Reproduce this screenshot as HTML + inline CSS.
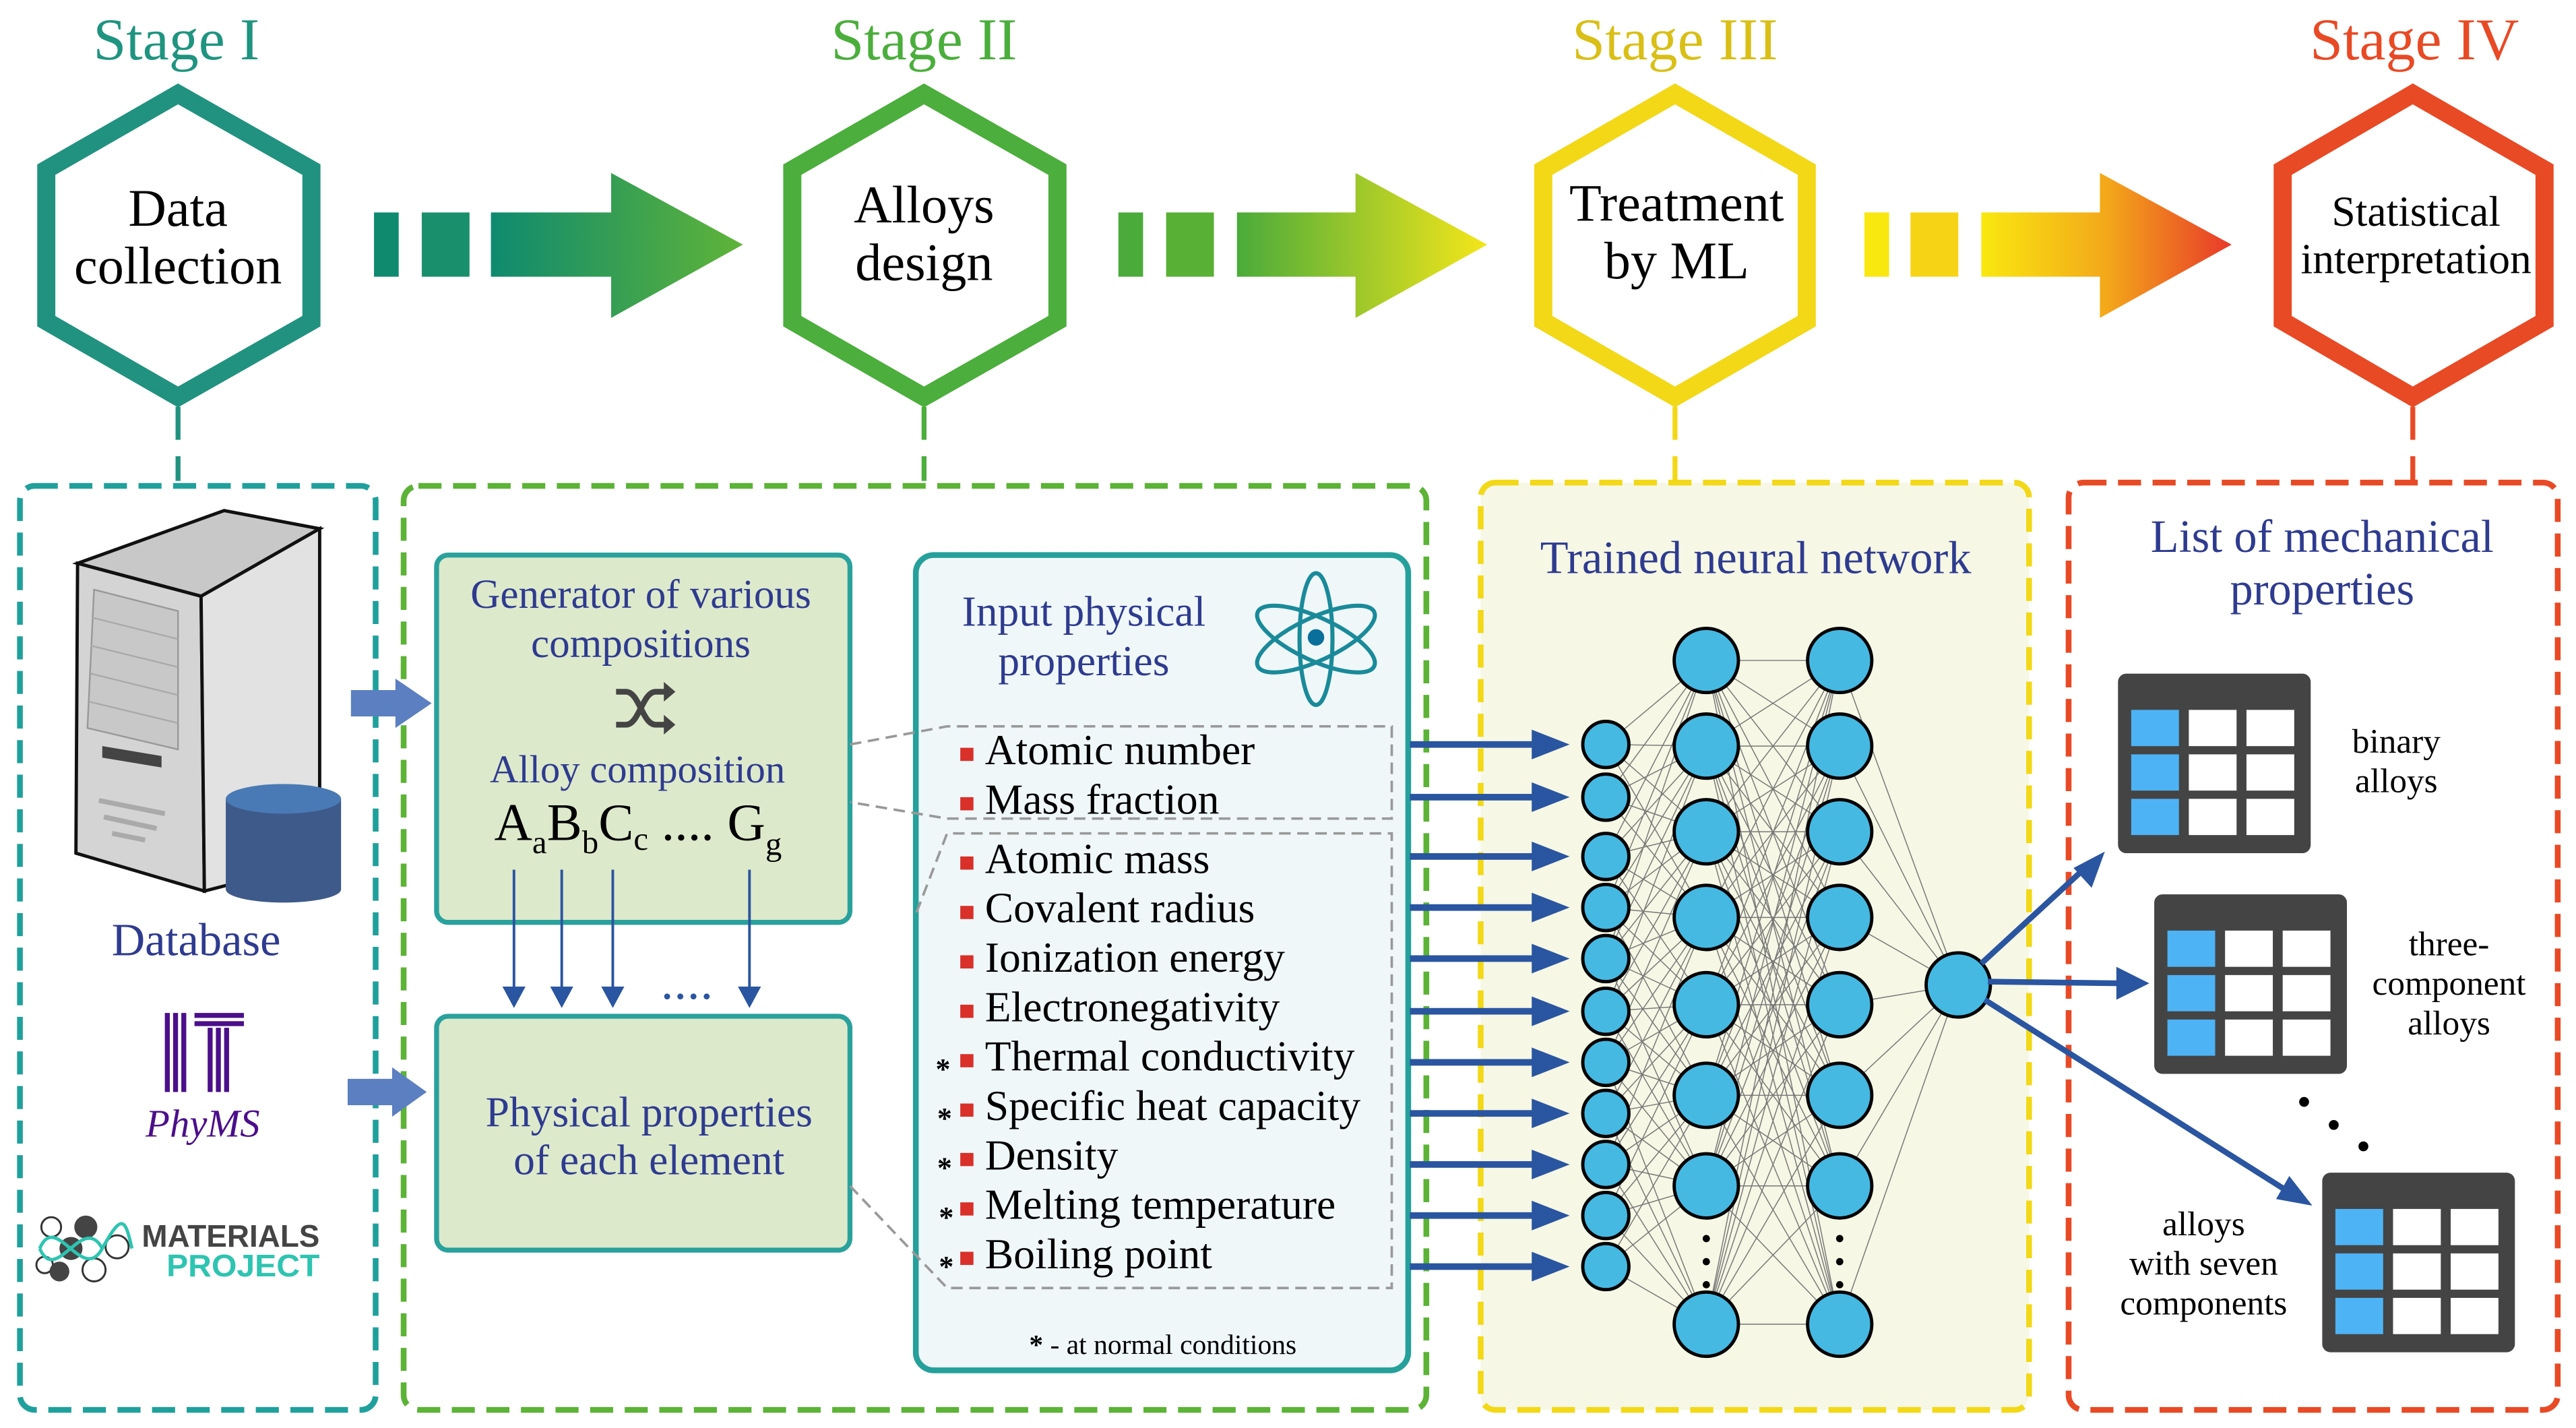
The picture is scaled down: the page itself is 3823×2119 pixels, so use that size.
<!DOCTYPE html>
<html><head><meta charset="utf-8"><style>
html,body{margin:0;padding:0;background:#fff}
svg{display:block}
text{font-family:"Liberation Serif",serif}
</style></head><body>
<svg id="s" xmlns="http://www.w3.org/2000/svg" width="3823" height="2119" viewBox="0 0 1564 867">
<defs>
<linearGradient id="g1" x1="0" x2="1"><stop offset="0" stop-color="#0f8a6f"/><stop offset="1" stop-color="#5fb438"/></linearGradient>
<linearGradient id="g2" x1="0" x2="1"><stop offset="0" stop-color="#4aab3a"/><stop offset="1" stop-color="#f4e61a"/></linearGradient>
<linearGradient id="g3" x1="0" x2="1"><stop offset="0" stop-color="#f9e80f"/><stop offset="0.5" stop-color="#f3a81a"/><stop offset="1" stop-color="#e8392a"/></linearGradient>
</defs>
<rect width="1564" height="867" fill="#fff"/>

<!-- Stage titles -->
<text x="107" y="36" font-size="36" fill="#1f9480" text-anchor="middle">Stage I</text>
<text x="561" y="36" font-size="36" fill="#4bae3c" text-anchor="middle">Stage II</text>
<text x="1017" y="36" font-size="36" fill="#d9bf16" text-anchor="middle">Stage III</text>
<text x="1466" y="36" font-size="36" fill="#e84a25" text-anchor="middle">Stage IV</text>

<!-- Hexagons -->
<g fill="#fff" stroke-width="11" stroke-linejoin="miter">
<polygon points="108,57 189,103 189,195 108,241 28,195 28,103" stroke="#21927f"/>
<polygon points="561,57 642,103 642,195 561,241 481,195 481,103" stroke="#4cae3c"/>
<polygon points="1017,57 1097,103 1097,195 1017,241 937,195 937,103" stroke="#f2d817"/>
<polygon points="1465,57 1545,103 1545,195 1465,241 1386,195 1386,103" stroke="#e84a25"/>
</g>
<g font-size="32" fill="#000" text-anchor="middle">
<text x="108" y="137">Data</text><text x="108" y="172">collection</text>
<text x="561" y="135">Alloys</text><text x="561" y="170">design</text>
<text x="1018" y="134">Treatment</text><text x="1018" y="169">by ML</text>
</g>
<text x="1467" y="137" font-size="26" text-anchor="middle">Statistical</text>
<text x="1467" y="166" font-size="26" text-anchor="middle">interpretation</text>

<!-- Stage arrows -->
<rect x="227" y="129" width="15" height="39" fill="#0f8a6f"/>
<rect x="256" y="129" width="29" height="39" fill="#1a8f6b"/>
<polygon points="298,129 371,129 371,105 451,148.5 371,193 371,168 298,168" fill="url(#g1)"/>
<rect x="679" y="129" width="15" height="39" fill="#4aab3a"/>
<rect x="708" y="129" width="29" height="39" fill="#58b034"/>
<polygon points="751,129 823,129 823,105 903,148.5 823,193 823,168 751,168" fill="url(#g2)"/>
<rect x="1132" y="129" width="15" height="39" fill="#f9e80f"/>
<rect x="1160" y="129" width="29" height="39" fill="#f6d415"/>
<polygon points="1203,129 1275,129 1275,105 1355,148.5 1275,193 1275,168 1203,168" fill="url(#g3)"/>

<!-- vertical dashed connectors -->
<g stroke-width="3" stroke-dasharray="20 10">
<line x1="108" y1="247" x2="108" y2="292" stroke="#21927f"/>
<line x1="561" y1="247" x2="561" y2="292" stroke="#4cae3c"/>
<line x1="1017" y1="247" x2="1017" y2="292" stroke="#f2d817"/>
<line x1="1465" y1="247" x2="1465" y2="292" stroke="#e84a25"/>
</g>

<!-- panels -->
<g stroke-width="3.5" stroke-dasharray="14 7" fill="none">
<rect x="12" y="295" width="216" height="561" rx="9" stroke="#20a09c"/>
<rect x="245" y="295" width="621" height="561" rx="9" stroke="#5cb336"/>
<rect x="899" y="293" width="333" height="563" rx="9" stroke="#f2d817" fill="#f6f7e4"/>
<rect x="1256" y="293" width="297" height="563" rx="9" stroke="#e84a25"/>
</g>

<!-- server -->
<polygon points="47,342 136,310 194,321 122,362" fill="#c8c8c8" stroke="#111" stroke-width="2"/>
<polygon points="47,342 122,362 124,541 46,518" fill="#d4d4d4" stroke="#111" stroke-width="2"/>
<polygon points="122,362 194,321 194,523 124,541" fill="#e2e2e2" stroke="#111" stroke-width="2"/>
<polygon points="57,358 108,371 108,455 53,442" fill="#c8c8c8" stroke="#999" stroke-width="1"/>
<g stroke="#aaa" stroke-width="1"><line x1="56" y1="375" x2="108" y2="388"/><line x1="55" y1="392" x2="108" y2="405"/><line x1="55" y1="409" x2="108" y2="422"/><line x1="54" y1="426" x2="108" y2="439"/></g>
<path d="M62,453 L98,459 L98,466 L62,460 Z" fill="#444"/>
<path d="M60,486 L100,494 M63,496 L95,503 M68,506 L88,510" stroke="#aaa" stroke-width="3"/>
<rect x="137" y="485" width="70" height="55" fill="#3d5a8a"/>
<ellipse cx="172" cy="540" rx="35" ry="8" fill="#3d5a8a"/>
<ellipse cx="172" cy="485" rx="35" ry="9" fill="#4a7ab5"/>
<text x="119" y="580" font-size="28" fill="#2e3b8f" text-anchor="middle">Database</text>

<!-- PhyMS -->
<g fill="#4b0f8a">
<rect x="100" y="615" width="3" height="48"/><rect x="105" y="615" width="3" height="48"/><rect x="110" y="615" width="3" height="48"/>
<rect x="118" y="615" width="30" height="3"/><rect x="118" y="620" width="30" height="3"/>
<rect x="126" y="624" width="3" height="39"/><rect x="131" y="624" width="3" height="39"/><rect x="136" y="624" width="3" height="39"/>
</g>
<text x="123" y="690" font-size="24" font-style="italic" fill="#4b0f8a" text-anchor="middle">PhyMS</text>

<!-- Materials Project -->
<g stroke="#333" stroke-width="1.2" fill="none">
<circle cx="31" cy="745" r="6"/><circle cx="71" cy="757" r="7"/><circle cx="57" cy="771" r="7"/><circle cx="27" cy="768" r="5"/>
</g>
<g fill="#444"><circle cx="52" cy="745" r="7"/><circle cx="43" cy="758" r="7"/><circle cx="36" cy="772" r="6"/></g>
<path d="M24,758 C34,735 50,780 62,758 S76,740 80,758" stroke="#2ec4b1" stroke-width="2" fill="none"/>
<path d="M24,758 C34,781 50,736 62,758" stroke="#2ec4b1" stroke-width="2" fill="none"/>
<text x="86" y="757" style="font-family:'Liberation Sans',sans-serif" font-weight="bold" font-size="19" fill="#444" textLength="108" lengthAdjust="spacingAndGlyphs">MATERIALS</text>
<text x="101" y="775" style="font-family:'Liberation Sans',sans-serif" font-weight="bold" font-size="19" fill="#2ec4b1" textLength="93" lengthAdjust="spacingAndGlyphs">PROJECT</text>

<!-- blue fat arrows -->
<polygon points="213,419 240,419 240,412 262,427 240,442 240,435 213,435" fill="#5b7fc0"/>
<polygon points="211,655 238,655 238,648 259,663 238,678 238,671 211,671" fill="#5b7fc0"/>

<!-- Generator box -->
<rect x="265" y="337" width="251" height="223" rx="7" fill="#dde9cb" stroke="#29a19c" stroke-width="3"/>
<g font-size="25" fill="#2e3b8f" text-anchor="middle">
<text x="389" y="369">Generator of various</text>
<text x="389" y="399">compositions</text>
<text x="387" y="475" font-size="24">Alloy composition</text>
</g>
<g fill="none" stroke="#444" stroke-width="3.5">
<path d="M374,420 L380,420 C388,420 390,440 398,440 L404,440"/>
<path d="M374,440 L380,440 C388,440 390,420 398,420 L404,420"/>
</g>
<polygon points="403,414 410,420 403,426" fill="#444"/><polygon points="403,434 410,440 403,446" fill="#444"/>
<text x="300" y="510" font-size="32" fill="#000">A<tspan font-size="20" dy="8">a</tspan><tspan dy="-8">B</tspan><tspan font-size="20" dy="8">b</tspan><tspan dy="-8">C</tspan><tspan font-size="20" dy="6">c</tspan><tspan dy="-6"> .... G</tspan><tspan font-size="20" dy="9">g</tspan></text>
<g stroke="#2a55a0" stroke-width="1.6">
<line x1="312" y1="528" x2="312" y2="600"/><line x1="341" y1="528" x2="341" y2="600"/><line x1="372" y1="528" x2="372" y2="600"/><line x1="455" y1="528" x2="455" y2="600"/>
</g>
<g fill="#2a55a0">
<polygon points="305,599 319,599 312,612"/><polygon points="334,599 348,599 341,612"/><polygon points="365,599 379,599 372,612"/><polygon points="448,599 462,599 455,612"/>
<circle cx="405" cy="605" r="1.8"/><circle cx="413" cy="605" r="1.8"/><circle cx="421" cy="605" r="1.8"/><circle cx="429" cy="605" r="1.8"/>
</g>

<!-- Physical properties box -->
<rect x="265" y="617" width="251" height="142" rx="7" fill="#dde9cb" stroke="#29a19c" stroke-width="3"/>
<text x="394" y="684" font-size="26" fill="#2e3b8f" text-anchor="middle">Physical properties</text>
<text x="394" y="713" font-size="26" fill="#2e3b8f" text-anchor="middle">of each element</text>

<!-- Input physical properties box -->
<rect x="556" y="337" width="299" height="495" rx="11" fill="#eff7f9" stroke="#25a09b" stroke-width="3.5"/>
<text x="658" y="380" font-size="26" fill="#2e3b8f" text-anchor="middle">Input physical</text>
<text x="658" y="410" font-size="26" fill="#2e3b8f" text-anchor="middle">properties</text>
<g fill="none" stroke="#1a8a9a" stroke-width="2.5">
<ellipse cx="799" cy="388" rx="39" ry="13" transform="rotate(25 799 388)"/>
<ellipse cx="799" cy="388" rx="39" ry="13" transform="rotate(-25 799 388)"/>
<ellipse cx="799" cy="388" rx="10" ry="40"/>
</g>
<circle cx="799" cy="387" r="5" fill="#0a6f9a"/>

<g stroke="#999" stroke-width="1.5" stroke-dasharray="7 4" fill="none">
<path d="M516,452 L575,441 L845,441 L845,497 L575,497 L516,487"/>
<path d="M516,720 L575,782 L845,782 L845,506 L575,506 L556,555"/>
</g>

<g font-size="26" fill="#000">
<text x="598" y="464">Atomic number</text>
<text x="598" y="494">Mass fraction</text>
<text x="598" y="530">Atomic mass</text>
<text x="598" y="560">Covalent radius</text>
<text x="598" y="590">Ionization energy</text>
<text x="598" y="620">Electronegativity</text>
<text x="598" y="650">Thermal conductivity</text>
<text x="598" y="680">Specific heat capacity</text>
<text x="598" y="710">Density</text>
<text x="598" y="740">Melting temperature</text>
<text x="598" y="770">Boiling point</text>
</g>
<g fill="#d9302a">
<rect x="583" y="454" width="8" height="8"/><rect x="583" y="484" width="8" height="8"/><rect x="583" y="520" width="8" height="8"/><rect x="583" y="550" width="8" height="8"/><rect x="583" y="580" width="8" height="8"/><rect x="583" y="610" width="8" height="8"/><rect x="583" y="640" width="8" height="8"/><rect x="583" y="670" width="8" height="8"/><rect x="583" y="700" width="8" height="8"/><rect x="583" y="730" width="8" height="8"/><rect x="583" y="760" width="8" height="8"/>
</g>
<g font-size="18" fill="#000" font-weight="bold">
<text x="568" y="655">*</text><text x="569" y="685">*</text><text x="569" y="715">*</text><text x="570" y="745">*</text><text x="570" y="775">*</text>
</g>
<text x="706" y="822" font-size="17" fill="#000" text-anchor="middle"><tspan font-weight="bold">*</tspan> - at normal conditions</text>

<!-- NN -->
<g id="edges" stroke="#777" stroke-width="0.6"></g>
<g id="inarrows"></g>
<g id="nodes" fill="#45b9e2" stroke="#000" stroke-width="2"></g>
<g fill="#000">
<circle cx="1036" cy="752" r="2.2"/><circle cx="1036" cy="766" r="2.2"/><circle cx="1036" cy="780" r="2.2"/>
<circle cx="1117" cy="752" r="2.2"/><circle cx="1117" cy="766" r="2.2"/><circle cx="1117" cy="780" r="2.2"/>
</g>
<text x="1066" y="348" font-size="28" fill="#2e3b8f" text-anchor="middle">Trained neural network</text>

<!-- output arrows -->
<g stroke="#2a55a0" stroke-width="3.5">
<line x1="1203" y1="585" x2="1266" y2="527"/>
<line x1="1207" y1="596" x2="1288" y2="597"/>
<line x1="1205" y1="607" x2="1387" y2="722"/>
</g>
<g fill="#2a55a0">
<polygon points="1278,517 1270,539 1259,527"/>
<polygon points="1305,597 1285,587 1285,607"/>
<polygon points="1404,732 1382,728 1390,714"/>
</g>

<!-- List of mechanical properties -->
<text x="1410" y="335" font-size="28" fill="#2e3b8f" text-anchor="middle">List of mechanical</text>
<text x="1410" y="367" font-size="28" fill="#2e3b8f" text-anchor="middle">properties</text>
<g id="tables"></g>
<g font-size="21" fill="#000" text-anchor="middle">
<text x="1455" y="457">binary</text><text x="1455" y="481">alloys</text>
<text x="1487" y="580">three-</text><text x="1487" y="604">component</text><text x="1487" y="628">alloys</text>
<text x="1338" y="750">alloys</text><text x="1338" y="774">with seven</text><text x="1338" y="798">components</text>
</g>
<g fill="#000"><circle cx="1399" cy="669" r="3"/><circle cx="1417" cy="683" r="3"/><circle cx="1435" cy="696" r="3"/></g>

<script>
(function(){
var NS="http://www.w3.org/2000/svg";
function el(p,t,a){var e=document.createElementNS(NS,t);for(var k in a)e.setAttribute(k,a[k]);document.getElementById(p).appendChild(e);return e;}
var iny=[452,484,520,551,582,614,645,676,707,738,769];
var h=[401,453,505,557,610,665,720,804];
var ix=975,h1=1036,h2=1117,ox=1189,oy=598;
iny.forEach(function(y,i){h.forEach(function(hy,j){if(Math.abs(i*0.75-j)<=3.2)el("edges","line",{x1:ix,y1:y,x2:h1,y2:hy});});});
h.forEach(function(a){h.forEach(function(b){el("edges","line",{x1:h1,y1:a,x2:h2,y2:b});});});
h.forEach(function(a){el("edges","line",{x1:h2,y1:a,x2:ox,y2:oy});});
iny.forEach(function(y){el("inarrows","rect",{x:856,y:y-2,width:76,height:4,fill:"#2a55a0"});el("inarrows","polygon",{points:"930,"+(y-9)+" 953,"+y+" 930,"+(y+9),fill:"#2a55a0"});});
iny.forEach(function(y){el("nodes","circle",{cx:ix,cy:y,r:14});});
h.forEach(function(y){el("nodes","circle",{cx:h1,cy:y,r:19.5});el("nodes","circle",{cx:h2,cy:y,r:19.5});});
el("nodes","circle",{cx:ox,cy:oy,r:19.5});
[[1286,409],[1308,543],[1410,712]].forEach(function(t){
var x=t[0],y=t[1],w=117,hh=109;
el("tables","rect",{x:x,y:y,width:w,height:hh,rx:5,fill:"#444"});
var cw=29,ch=22,gx=6,sx=x+8,sy=y+22;
for(var r=0;r<3;r++)for(var c=0;c<3;c++){el("tables","rect",{x:sx+c*(cw+gx),y:sy+r*(ch+5),width:cw,height:ch,fill:c==0?"#4db3f5":"#fff"});}
});
})();
</script>
</svg>
</body></html>
